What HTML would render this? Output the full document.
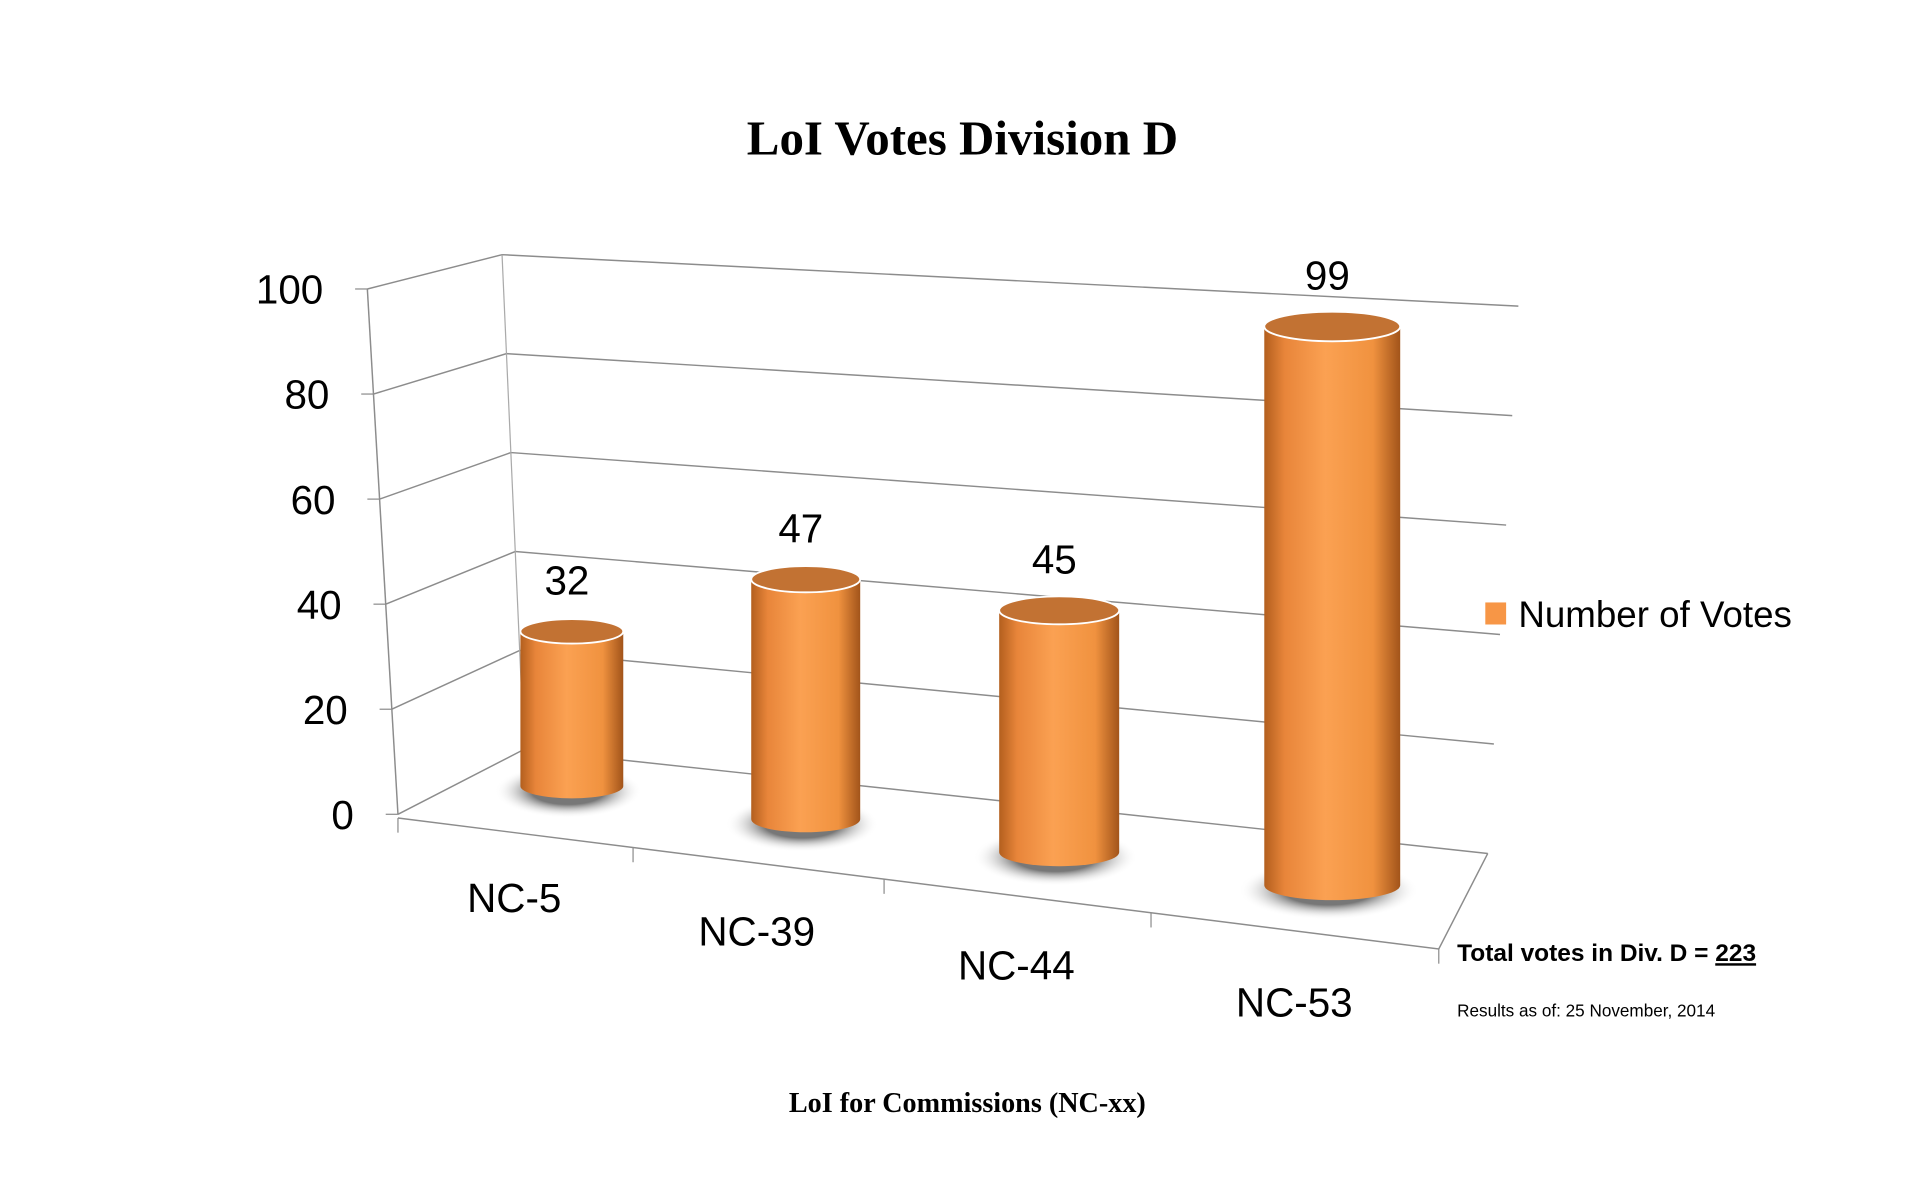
<!DOCTYPE html>
<html><head><meta charset="utf-8"><style>
html,body{margin:0;padding:0;background:#fff;width:1920px;height:1200px;overflow:hidden}
svg{display:block}
text{font-family:"Liberation Sans",sans-serif}
</style></head><body>
<svg id="chart" width="1920" height="1200" viewBox="0 0 1568 980" preserveAspectRatio="none" xmlns="http://www.w3.org/2000/svg">
<defs>
<linearGradient id="cyl" x1="0" x2="1" y1="0" y2="0">
<stop offset="0" stop-color="#b35f1e"/><stop offset="0.15" stop-color="#e8853a"/><stop offset="0.45" stop-color="#fba152"/><stop offset="0.8" stop-color="#f0923f"/><stop offset="1" stop-color="#a2541a"/>
</linearGradient>
<radialGradient id="shd"><stop offset="0.5" stop-color="#777"/><stop offset="1" stop-color="#fff" stop-opacity="0"/></radialGradient>
</defs>
<text x="786" y="126" text-anchor="middle" style="font-family:'Liberation Serif',serif;font-weight:bold;font-size:40px">LoI Votes Division D</text>
<g id="grid"></g>
<g id="yticks"></g>
<g id="bars"></g>
<rect x="1213" y="492" width="17" height="18" fill="#f79646"/>
<text x="1240" y="512" style="font-size:30px">Number of Votes</text>
<text x="1190" y="785" style="font-size:20px;font-weight:bold">Total votes in Div. D = <tspan text-decoration="underline">223</tspan></text>
<text x="1190" y="830" style="font-size:14px">Results as of: 25 November, 2014</text>
<text x="790" y="908" text-anchor="middle" style="font-family:'Liberation Serif',serif;font-weight:bold;font-size:23px">LoI for Commissions (NC-xx)</text>
</svg>
<script>
const categories=["NC-5","NC-39","NC-44","NC-53"];
const votes=[32,47,45,99];
const yTicks=[0,20,40,60,80,100];
const NS="http://www.w3.org/2000/svg";
function mk(tag,attrs,parent){const e=document.createElementNS(NS,tag);for(const k in attrs)e.setAttribute(k,attrs[k]);parent.appendChild(e);return e;}
const frontY=v=>665-v*4.29;
const frontX=v=>325-v*0.25;
const backLY=v=>612-v*4.04;
const backLX=v=>428-v*0.18;
const rightY=v=>697-v*4.47;
const rightX=v=>1215+v*0.25;
const grid=document.getElementById('grid'),yt=document.getElementById('yticks');
yTicks.forEach(v=>{
  const p=mk('polyline',{points:`${frontX(v)},${frontY(v)} ${backLX(v)},${backLY(v)} ${rightX(v)},${rightY(v)}`,fill:'none',stroke:'#8c8c8c','stroke-width':1.2},grid);
  
  
  const t=mk('text',{x:frontX(v)-36,y:frontY(v)+12,'text-anchor':'end','font-size':'33'},yt);
  t.textContent=v;
  
  
  mk('line',{x1:frontX(v)-10,y1:frontY(v),x2:frontX(v),y2:frontY(v),stroke:'#8c8c8c'},yt);
});
mk('line',{x1:frontX(100),y1:frontY(100),x2:frontX(0),y2:frontY(0),stroke:'#8c8c8c','stroke-width':1.2},yt);
mk('line',{x1:backLX(100),y1:backLY(100),x2:backLX(0),y2:backLY(0),stroke:'#aaa','stroke-width':1},grid);
mk('polyline',{points:`325,668 1175,775 1215,697`,fill:'none',stroke:'#8c8c8c','stroke-width':1.2},grid);
mk('line',{x1:325,y1:668,x2:325,y2:680,stroke:'#8c8c8c'},grid);
mk('line',{x1:1175,y1:775,x2:1175,y2:787,stroke:'#8c8c8c'},grid);
[517,722,940].forEach((x,i)=>{const y=668+(x-325)*107/850;mk('line',{x1:x,y1:y,x2:x,y2:y+12,stroke:'#8c8c8c'},grid);});
const cx=i=>467+183*i+8*i*i;
const baseY=i=>642+i*27;
const unit=i=>3.95+i*0.22;
const halfW=i=>42+i*1.5+i*i;
const labelPos=[[420,745],[618,772],[830,800],[1057,830]];
const bars=document.getElementById('bars');
categories.forEach((c,i)=>{
  const x=cx(i),b=baseY(i),w=halfW(i),top=b-votes[i]*unit(i),ry=10+i*0.7;
  const g=mk('g',{},bars);
  
  
  mk('ellipse',{cx:x-3,cy:b+4,rx:w+18,ry:ry+12,fill:'url(#shd)'},g);
  mk('path',{d:`M${x-w},${top} L${x-w},${b} A${w},${ry} 0 0 0 ${x+w},${b} L${x+w},${top} Z`,fill:'url(#cyl)'},g);
  mk('ellipse',{cx:x,cy:top,rx:w,ry:ry,fill:'#c27233',stroke:'#fff','stroke-width':1.5},g);
  const v=mk('text',{x:x-4,y:top-30,'text-anchor':'middle','font-size':'33'},bars);
  v.textContent=votes[i];
  
  
  const l=mk('text',{x:labelPos[i][0],y:labelPos[i][1],'text-anchor':'middle','font-size':'33'},bars);
  l.textContent=c;
  
  
});
</script>
</body></html>
